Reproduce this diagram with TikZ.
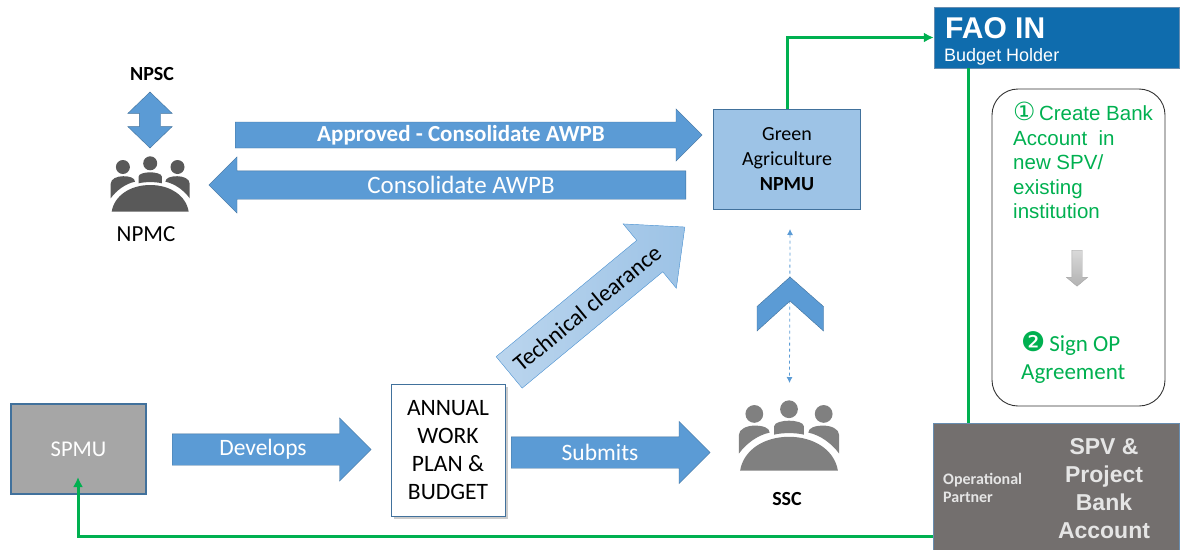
\documentclass[tikz,border=0pt]{standalone}
\usepackage{fontspec}
\setmainfont{Carlito}
\newfontfamily\arialfont{Liberation Sans}
\newfontfamily\symbfont{DejaVu Sans}
\usetikzlibrary{shapes.arrows,shadows,arrows.meta}
\definecolor{arrowblue}{HTML}{5B9BD5}
\definecolor{arrowedge}{HTML}{41719C}
\definecolor{paleblue}{HTML}{9DC3E6}
\definecolor{faoblue}{HTML}{0F6CAD}
\definecolor{spvgrey}{HTML}{736F6E}
\definecolor{linegreen}{HTML}{00B050}
\tikzset{
  blockarrow/.style={single arrow, draw=arrowedge, fill=arrowblue, inner sep=0pt, anchor=tail,
    single arrow tip angle=90},
  whitelabel/.style={text=white, font=\fontsize{23.5}{28}\selectfont, inner sep=0pt},
  greenline/.style={draw=linegreen, line width=3pt},
  greentip/.style={-{Latex[length=10pt,width=10pt]}},
  people/.pic={
    \fill (-27.3,-44.7) circle (7);
    \fill (0,-48.4) circle (7);
    \fill (27.3,-44.7) circle (7);
    \fill (-38.5,0) .. controls (-36,-16) and (-20,-26.7) .. (0,-26.7) .. controls (20,-26.7) and (36,-16) .. (38.5,0) -- cycle;
    \fill (-39.5,-13.4) -- (-39.5,-28) .. controls (-39.5,-33) and (-33,-35.5) .. (-27,-35.5) .. controls (-21,-35.5) and (-15.2,-34) .. (-15.2,-30) .. controls (-25,-28) and (-34,-21) .. cycle;
    \fill (39.5,-13.4) -- (39.5,-28) .. controls (39.5,-33) and (33,-35.5) .. (27,-35.5) .. controls (21,-35.5) and (15.2,-34) .. (15.2,-30) .. controls (25,-28) and (34,-21) .. cycle;
    \fill (-11.7,-28.4) -- (-11.7,-35) .. controls (-11.7,-38) and (-5,-39.4) .. (0,-39.4) .. controls (5,-39.4) and (11.7,-38) .. (11.7,-35) -- (11.7,-28.4) .. controls (5,-30) and (-5,-30) .. cycle;
  },
}
\begin{document}
\begin{tikzpicture}[x=1pt,y=-1pt]
\useasboundingbox (0,0) rectangle (1183,549);

% boxes
\node[draw=arrowedge, fill=paleblue, line width=1.5pt, minimum width=147pt, minimum height=100pt, align=center,
  font=\fontsize{20}{25}\selectfont, inner sep=0pt] (npmu) at (787,159.5) {Green\\Agriculture\\\textbf{NPMU}};
\node[draw=arrowedge!80, fill=faoblue, minimum width=245pt, minimum height=61pt, inner sep=0pt] (fao) at (1056.5,37.5) {};
\node[text=white, font=\arialfont\bfseries\fontsize{30}{32}\selectfont, anchor=west, inner sep=0pt] (faotitle) at (945,28) {FAO IN};
\node[text=white, font=\arialfont\fontsize{18}{20}\selectfont, anchor=west, inner sep=0pt] (faosub) at (944,57) {Budget Holder};
\node[draw=black!80, rounded corners=26pt, line width=0.9pt, minimum width=173pt, minimum height=317pt, inner sep=0pt] (steps) at (1078.5,247.5) {};
\node[draw=arrowedge!80, fill=spvgrey, minimum width=246pt, minimum height=127pt, inner sep=0pt] (spv) at (1056,486.5) {};
\node[draw=arrowedge, fill=black!35, line width=1.5pt, minimum width=135pt, minimum height=90pt, text=white,
  font=\fontsize{22.5}{26}\selectfont, inner sep=0pt] (spmu) at (78.5,449) {SPMU};
\node[draw=arrowedge, fill=white, line width=1pt, minimum width=114pt, minimum height=132pt, align=center,
  font=\fontsize{23.5}{28}\selectfont, inner sep=0pt, drop shadow={shadow xshift=2.5pt, shadow yshift=-2.5pt, opacity=0.4}] (awpb) at (448,450)
  {ANNUAL\\WORK\\PLAN \&\\BUDGET};

% text in the steps box
\node[text=linegreen, anchor=north west, align=left, inner sep=0pt, font=\arialfont\fontsize{20.5}{24.5}\selectfont] (create) at (1013,102)
  {{\symbfont\fontsize{25}{24.5}\selectfont ①}\,Create Bank\\Account~~in\\new SPV/\\existing\\institution};
\node[text=linegreen, anchor=north west, align=left, inner sep=0pt, font=\fontsize{23}{28}\selectfont] (sign) at (1021,331)
  {{\symbfont\fontsize{27}{28}\selectfont ❷}\,Sign OP\\Agreement};
\node[single arrow, rotate=-90, anchor=tail, minimum height=36pt, inner sep=0pt, inner ysep=5pt,
  single arrow head extend=5.5pt, single arrow tip angle=100, draw=black!35, top color=black!15, bottom color=black!30] (down) at (1077,250) {};

% text in the SPV box
\node[text=black!10, align=center, inner sep=0pt, font=\arialfont\bfseries\fontsize{23}{28}\selectfont] (spvtext) at (1104,488.5)
  {SPV \&\\Project\\Bank\\Account};
\node[text=black!10, anchor=west, align=left, inner sep=0pt, font=\bfseries\fontsize{16}{18}\selectfont] (oppart) at (943,488)
  {Operational\\Partner};

% block arrows
\node[blockarrow, minimum height=467pt, inner ysep=12.8pt, single arrow head extend=13.2pt] (approved) at (235,135) {};
\node[whitelabel, font=\bfseries\fontsize{23}{28}\selectfont] (approvedtext) at (461,135.5) {Approved - Consolidate AWPB};
\node[blockarrow, shape border rotate=0, rotate=180, minimum height=477pt, inner ysep=14pt, single arrow head extend=14pt] (consol) at (686,185) {};
\node[whitelabel, font=\fontsize{25}{28}\selectfont] (consoltext) at (461,185) {Consolidate AWPB};
\node[blockarrow, minimum height=199pt, inner ysep=15.5pt, single arrow head extend=16pt] (develops) at (172,449.5) {};
\node[whitelabel] (developstext) at (263,449.5) {Develops};
\node[blockarrow, minimum height=199pt, inner ysep=15.5pt, single arrow head extend=15.5pt] (submits) at (511,452.5) {};
\node[whitelabel] (submitstext) at (600,452) {Submits};
\node[blockarrow, draw=arrowblue, shade, left color=paleblue!70!white, right color=paleblue, rotate=39.6, minimum height=228pt,
  inner ysep=20.2pt, single arrow head extend=21.3pt, single arrow tip angle=85] (clearance) at (509,372.5) {};
\node[text=black, rotate=39.6, font=\fontsize{23.5}{28}\selectfont, inner sep=0pt] (clearancetext) at (587,308) {Technical clearance};
\node[double arrow, draw=arrowedge, fill=arrowblue, rotate=90, minimum height=56pt, inner sep=0pt, inner ysep=10.5pt,
  double arrow head extend=11.5pt, double arrow tip angle=92] (npscarrow) at (150,120) {};

% committees
\pic[color=black!65] at (150.2,211.7) {people};
\pic[color=black!50, scale=1.27] at (789,470.7) {people};
\node[font=\bfseries\fontsize{20}{24}\selectfont, inner sep=0pt] (npsc) at (152,74) {NPSC};
\node[font=\fontsize{23}{28}\selectfont, inner sep=0pt] (npmc) at (146,234) {NPMC};
\node[font=\bfseries\fontsize{20}{24}\selectfont, inner sep=0pt] (ssc) at (787,499) {SSC};

% dashed link and chevron
\coordinate (dashtop) at (790,229);
\coordinate (dashbottom) at (789.5,383);
\draw[arrowblue, dashed, line width=0.8pt, {Latex[length=6pt,width=6pt]}-{Latex[length=6pt,width=6pt]}] (dashtop) -- (dashbottom);
\draw[arrowedge, fill=arrowblue] (790,277) -- (823.5,306.5) -- (823.5,331) -- (790,301) -- (757,331) -- (757,306.5) -- cycle;

% green connectors
\coordinate (faofoot) at (968,68);
\coordinate (spvtop) at (968,423);
\coordinate (spvport) at (933,536);
\coordinate (spmuend) at (78,477);
\draw[greenline, greentip] (npmu.north) |- (fao.west);
\draw[greenline] (faofoot) -- (spvtop);
\draw[greenline, greentip] (spvport) -| (spmuend);
\end{tikzpicture}
\end{document}
